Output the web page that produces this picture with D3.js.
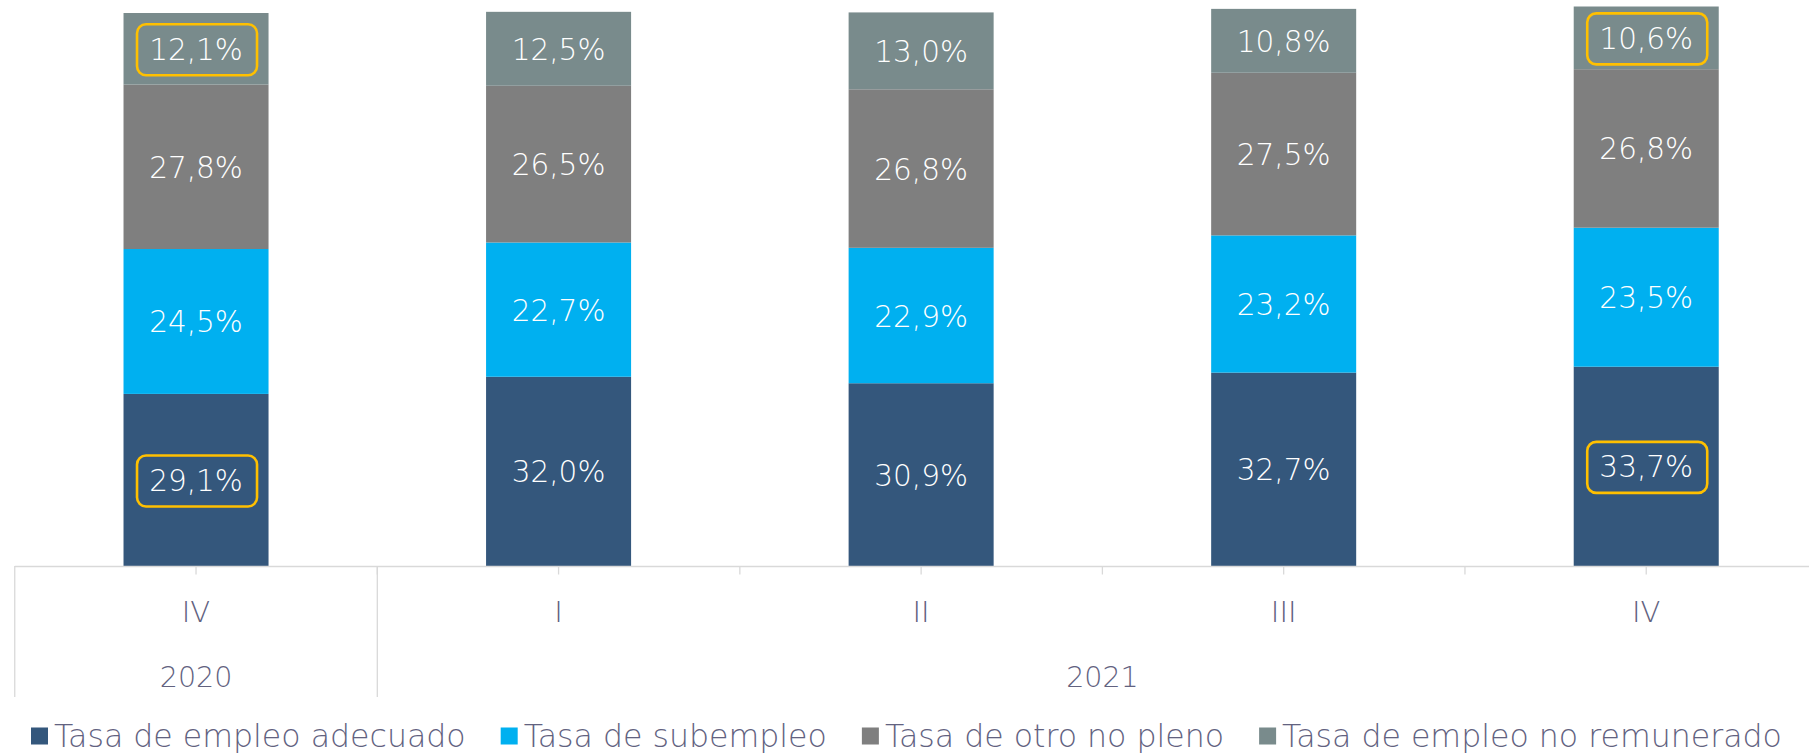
<!DOCTYPE html>
<html>
<head>
<meta charset="utf-8">
<script src="https://cdn.jsdelivr.net/npm/d3@7"></script>
<style>
  html, body { margin: 0; padding: 0; background: #fff; }
  svg { display: block; }
  text { font-family: "DejaVu Sans", sans-serif; }
</style>
</head>
<body>
<svg id="chart" width="1809" height="756"></svg>
<script>
// ---- data ----
const quarters = ["IV", "I", "II", "III", "IV"];
const years = [
  { label: "2020", from: 0, to: 0 },
  { label: "2021", from: 1, to: 4 }
];
const seriesNames = [
  "Tasa de empleo adecuado",
  "Tasa de subempleo",
  "Tasa de otro no pleno",
  "Tasa de empleo no remunerado"
];
const adecuado     = [29.1, 32.0, 30.9, 32.7, 33.7];
const subempleo    = [24.5, 22.7, 22.9, 23.2, 23.5];
const otroNoPleno  = [27.8, 26.5, 26.8, 27.5, 26.8];
const noRemunerado = [12.1, 12.5, 13.0, 10.8, 10.6];
const seriesColors = ["#34577C", "#00B0F0", "#7F7F7F", "#798B8C"];
// highlighted labels: [seriesIndex, categoryIndex]
const highlighted = [[3, 0], [0, 0], [3, 4], [0, 4]];

// ---- build ----
const seriesValues = [adecuado, subempleo, otroNoPleno, noRemunerado];
const rows = quarters.map((q, i) => {
  const r = { idx: i };
  seriesValues.forEach((vals, s) => r["s" + s] = vals[i]);
  return r;
});
const keys = seriesNames.map((_, s) => "s" + s);
const stacked = d3.stack().keys(keys)(rows);

const svg = d3.select("#chart");
const x = d3.scaleBand()
  .domain(d3.range(quarters.length))
  .range([14.75, 1827.5])
  .paddingInner(0.6)
  .paddingOuter(0.3);
const y = d3.scaleLinear().domain([0, 95.7]).range([566, 0]);
const step = x.step();
const cx = i => x(i) + x.bandwidth() / 2;
const fmt = v => d3.format(".1f")(v).replace(".", ",") + "%";

// bars
const g = svg.append("g");
stacked.forEach((layer, s) => {
  g.selectAll(null).data(layer).enter().append("rect")
    .attr("x", (d, i) => x(i))
    .attr("width", x.bandwidth())
    .attr("y", d => y(d[1]))
    .attr("height", d => y(d[0]) - y(d[1]))
    .attr("fill", seriesColors[s]);
});

// highlight boxes
const boxW = 120, boxH = 51;
highlighted.forEach(([s, i]) => {
  const d = stacked[s][i];
  const my = (y(d[0]) + y(d[1])) / 2;
  svg.append("rect")
    .attr("x", cx(i) - boxW / 2 + 1)
    .attr("y", my - boxH / 2 + 1)
    .attr("width", boxW)
    .attr("height", boxH)
    .attr("rx", 9).attr("ry", 9)
    .attr("fill", "none")
    .attr("stroke", "#FFC000")
    .attr("stroke-width", 2.6);
});

// data labels
stacked.forEach((layer, s) => {
  svg.selectAll(null).data(layer).enter().append("text")
    .attr("x", (d, i) => cx(i))
    .attr("y", d => (y(d[0]) + y(d[1])) / 2 + 1)
    .attr("text-anchor", "middle")
    .attr("dominant-baseline", "central")
    .attr("fill", "#ffffff")
    .attr("font-size", 29.5)
    .attr("font-weight", 200)
    .text(d => fmt(d.data["s" + s]));
});

// axis
const axisY = y(0);
const axisColor = "#D9D9D9";
const x0 = x.range()[0], x1 = x.range()[1];
svg.append("line")
  .attr("x1", x0).attr("x2", x1)
  .attr("y1", axisY + 0.5).attr("y2", axisY + 0.5)
  .attr("stroke", axisColor).attr("stroke-width", 1.5);
// small ticks at centers and boundaries
const tickPos = [];
quarters.forEach((q, i) => { tickPos.push(cx(i)); if (i > 0) tickPos.push(x0 + i * step); });
svg.selectAll(null).data(tickPos).enter().append("line")
  .attr("x1", d => d).attr("x2", d => d)
  .attr("y1", axisY).attr("y2", axisY + 8.5)
  .attr("stroke", axisColor).attr("stroke-width", 1.3);
// group separators
const sepPos = [x0];
years.forEach(yr => sepPos.push(x0 + (yr.to + 1) * step));
svg.selectAll(null).data(sepPos).enter().append("line")
  .attr("x1", d => d).attr("x2", d => d)
  .attr("y1", axisY).attr("y2", 697)
  .attr("stroke", axisColor).attr("stroke-width", 1.3);

const labelColor = "#62627F";
svg.selectAll(null).data(quarters).enter().append("text")
  .attr("x", (d, i) => cx(i))
  .attr("y", 612)
  .attr("text-anchor", "middle")
  .attr("dominant-baseline", "central")
  .attr("fill", labelColor)
  .attr("font-size", 29)
  .attr("font-weight", 200)
  .text(d => d);
svg.selectAll(null).data(years).enter().append("text")
  .attr("x", d => (cx(d.from) + cx(d.to)) / 2)
  .attr("y", 677)
  .attr("text-anchor", "middle")
  .attr("dominant-baseline", "central")
  .attr("fill", labelColor)
  .attr("font-size", 28.5)
  .attr("font-weight", 200)
  .text(d => d.label);

// legend
const legend = svg.append("g");
let lx = 31;
seriesNames.forEach((name, s) => {
  legend.append("rect")
    .attr("x", lx).attr("y", 727.5)
    .attr("width", 17).attr("height", 17)
    .attr("fill", seriesColors[s]);
  const t = legend.append("text")
    .attr("x", lx + 23)
    .attr("y", 735.5)
    .attr("dominant-baseline", "central")
    .attr("fill", labelColor)
    .attr("font-size", 31.6)
    .attr("font-weight", 200)
    .text(name);
  lx = lx + 23 + t.node().getComputedTextLength() + 35;
});
</script>
</body>
</html>
